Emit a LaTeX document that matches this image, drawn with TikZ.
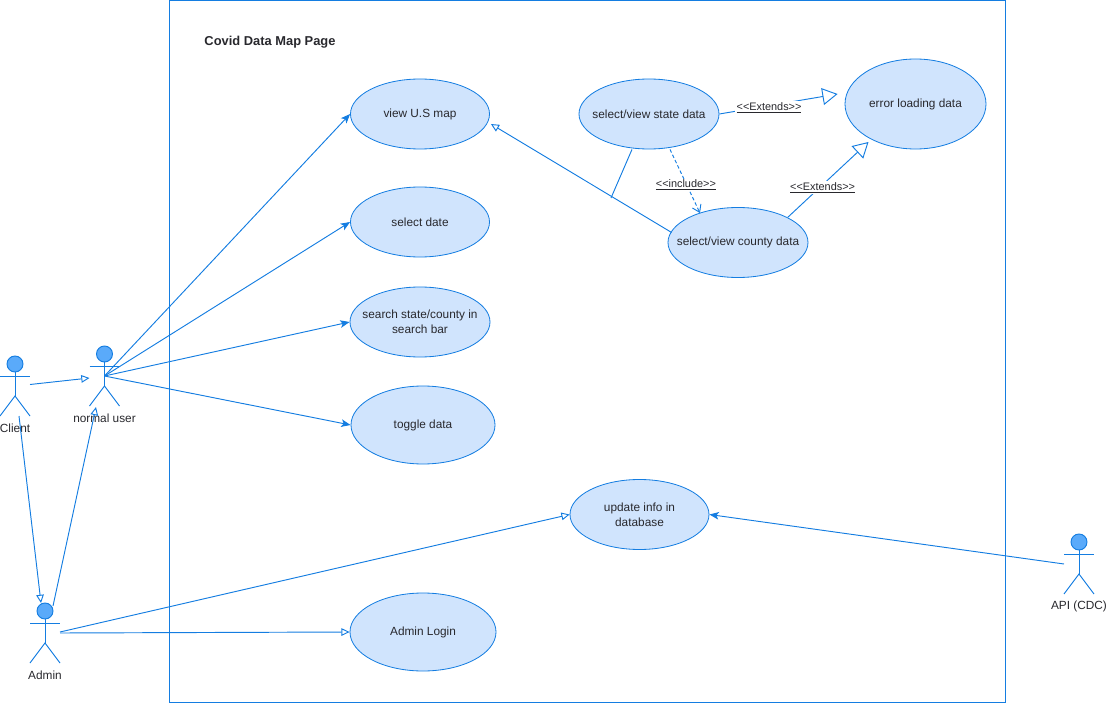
\documentclass[tikz,border=0pt]{standalone}
\usepackage{fontspec}
\setmainfont{Liberation Sans}
\usetikzlibrary{arrows.meta,shapes.geometric,calc}
\definecolor{umlline}{RGB}{20,125,225}
\definecolor{umlfill}{RGB}{208,228,253}
\definecolor{umlhead}{RGB}{90,170,250}
\definecolor{umltext}{RGB}{40,40,45}
\tikzset{
	usecase/.style={ellipse,draw=umlline,fill=umlfill,line width=0.7pt,text=umltext,inner xsep=-20pt,inner ysep=-6pt,
		font=\fontsize{10.1}{12.5}\selectfont,align=center},
	actorbox/.style={minimum width=0.9cm,minimum height=1.8cm,inner sep=0pt,outer sep=0pt},
	actorname/.style={text=umltext,font=\fontsize{10.1}{12}\selectfont,inner sep=0pt},
	link/.style={draw=umlline,line width=0.8pt},
	solidtip/.style={link,-{Stealth[length=8pt,width=6.5pt,inset=2pt]}},
	opentip/.style={link,-{Triangle[open,fill=white,length=7pt,width=6.5pt]}},
	bigtip/.style={link,-{Triangle[open,fill=white,length=13pt,width=14.5pt]}},
	steretype/.style={fill=white,text=umltext,inner sep=1pt,font=\fontsize{9.3}{11}\selectfont}
}
\newcommand{\stickfig}[2]{
	\draw[link,fill=umlhead] ($(#1.north)+(0,8)$) circle (8);
	\draw[link] ($(#1.north)+(-15,20)$) -- ($(#1.north)+(15,20)$);
	\draw[link] ($(#1.north)+(0,16)$) -- ($(#1.north)+(0,40)$);
	\draw[link] ($(#1.south west)$) -- ($(#1.north)+(0,40)$) -- ($(#1.south east)$);
	\node[actorname] (#1name) at ($(#1.south)+(0,12)$) {#2};
}
\begin{document}
\begin{tikzpicture}[x=0.03cm,y=-0.03cm]
	\useasboundingbox (0,0) rectangle (1108,704);
	\draw[link] (169,0) rectangle (1005,702);
	\node[text=umltext,inner sep=0pt,font=\fontsize{11}{13}\selectfont\bfseries] (pagetitle) at (270,42) {Covid Data Map Page};

	% use cases
	\node[usecase,minimum width=4.17cm,minimum height=2.1cm] (viewmap) at (420,114) {view U.S map};
	\node[usecase,minimum width=4.17cm,minimum height=2.1cm] (selectdate) at (420,222) {select date};
	\node[usecase,minimum width=4.2cm,minimum height=2.1cm] (searchbar) at (420,322) {search state/county in\\search bar};
	\node[usecase,minimum width=4.32cm,minimum height=2.34cm] (toggledata) at (423,425) {toggle data};
	\node[usecase,minimum width=4.17cm,minimum height=2.1cm] (updateinfo) at (639.5,514.5) {update info in\\database};
	\node[usecase,minimum width=4.38cm,minimum height=2.34cm] (adminlogin) at (423,632) {Admin Login};
	\node[usecase,minimum width=4.2cm,minimum height=2.1cm] (statedata) at (649,114) {select/view state data};
	\node[usecase,minimum width=4.2cm,minimum height=2.1cm] (countydata) at (738,242.5) {select/view county data};
	\node[usecase,minimum width=4.23cm,minimum height=2.7cm] (errordata) at (915.5,104) {error loading data};

	% actors
	\node[actorbox] (client) at (15,386) {};
	\node[actorbox] (normaluser) at (104.5,376) {};
	\node[actorbox] (admin) at (45,633) {};
	\node[actorbox] (apicdc) at (1079,564) {};
	\stickfig{client}{Client}
	\stickfig{normaluser}{normal user}
	\stickfig{admin}{Admin}
	\stickfig{apicdc}{API (CDC)}

	% actor links
	\draw[opentip] ([shift={(0,-1.5)}]client.east) -- ([shift={(0,2)}]normaluser.west);
	\draw[opentip] ([shift={(4,0)}]client.south) -- ([shift={(-4,0)}]admin.north);
	\draw[opentip] ([shift={(8,3)}]admin.north) -- ([shift={(-8.5,1)}]normaluser.south);
	\foreach \target in {viewmap,selectdate,searchbar,toggledata}
		\draw[solidtip] (normaluser.center) -- (\target.west);
	\draw[opentip] ([shift={(0,-1)}]admin.east) -- (updateinfo.west);
	\draw[opentip] (admin.east) -- (adminlogin.west);
	\draw[solidtip] (apicdc.west) -- (updateinfo.east);

	% relations between use cases
	\coordinate (joint) at (611,198);
	\draw[opentip] ([shift={(4,-10)}]countydata.west) -- ([shift={(1,10)}]viewmap.east);
	\draw[link] ([shift={(-17,0)}]statedata.south) -- (joint);
	\draw[link,dash pattern=on 3pt off 2pt,-{Straight Barb[length=6pt,width=8pt]}] ([shift={(21,0)}]statedata.south) -- ([shift={(-38,6)}]countydata.north)
		node[steretype,pos=0.53,yshift=-1.5pt] (includetag) {\underline{<{}<include>{}>}};
	\draw[bigtip] (statedata.east) -- ([shift={(-7,-10)}]errordata.west)
		node[steretype,pos=0.42,yshift=-1.5pt] (extendstate) {\underline{<{}<Extends>{}>}};
	\draw[bigtip] ([shift={(50,10)}]countydata.north) -- ([shift={(-47,38)}]errordata.center)
		node[steretype,pos=0.43,yshift=-2.5pt] (extendcounty) {\underline{<{}<Extends>{}>}};
\end{tikzpicture}
\end{document}
